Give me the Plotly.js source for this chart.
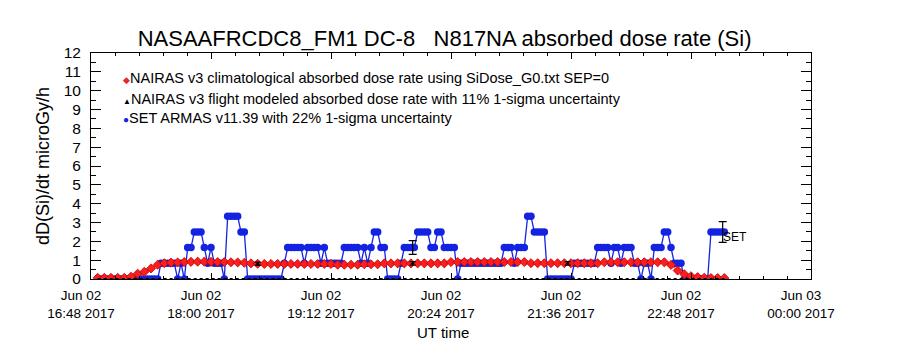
<!DOCTYPE html>
<html><head><meta charset="utf-8">
<script src="https://cdn.plot.ly/plotly-3.0.1.min.js"></script>
<style>html,body{margin:0;padding:0;background:#fff}#chart{width:900px;height:350px}</style>
</head><body><div id="chart"></div>
<script>
// ---- time base: minutes after 2017-06-02 16:48 UT ----
const startUT = Date.UTC(2017, 5, 2, 16, 48);
const endUT = Date.UTC(2017, 5, 3, 0, 0);

// NAIRAS v3 climatological absorbed dose rate (every 4 min from +4 min)
const climStartMin = 4, climStepMin = 4;
const climDose = [
  0.06,0.06,0.06,0.06,0.06,0.12,0.28,0.38,0.56,0.76,
  0.84,0.87,0.88,0.90,0.91,0.92,0.92,0.91,0.90,0.90,
  0.89,0.88,0.86,0.83,0.81,0.80,0.80,0.80,0.80,0.80,
  0.80,0.80,0.80,0.80,0.80,0.80,0.76,0.76,0.76,0.76,
  0.78,0.78,0.78,0.83,0.83,0.83,0.83,0.83,0.83,0.83,
  0.83,0.83,0.83,0.90,0.90,0.90,0.90,0.90,0.90,0.90,
  0.90,0.90,0.90,0.90,0.90,0.84,0.84,0.84,0.84,0.84,
  0.84,0.84,0.84,0.84,0.84,0.84,0.89,0.89,0.89,0.89,
  0.89,0.89,0.89,0.89,0.89,0.89,0.75,0.45,0.25,0.15,
  0.10,0.07,0.05,0.05,0.05
];

// SET ARMAS v11.39 (every 2 min from +4 min)
const armasStartMin = 4, armasStepMin = 2;
const armasDose = [
  0,0,0,0,0,0,0,0,0,0,
  0,0,0,0,0,0,0,0,0,0.83,
  0.83,0.83,0.83,0.83,0,0.83,0,1.67,1.67,2.5,
  2.5,2.5,1.67,0.83,1.67,0.83,0.83,0.83,0,3.33,
  3.33,3.33,3.33,2.5,2.5,0,0,0,0,0,
  0,0,0,0,0,0,0.83,1.67,1.67,1.67,
  1.67,1.67,0.83,1.67,1.67,1.67,1.67,0.83,1.67,0.83,
  0.83,0.83,0.83,0.83,1.67,1.67,1.67,1.67,1.67,0.83,
  1.67,0.83,1.67,2.5,2.5,1.67,1.67,0,0,0,
  0,0.83,1.67,1.67,1.67,1.67,2.5,2.5,2.5,2.5,
  1.67,1.67,2.5,2.5,1.67,1.67,1.67,1.67,0,0.83,
  0.83,0.83,0.83,0.83,0.83,0.83,0.83,0.83,0.83,0.83,
  0.83,0.83,1.67,1.67,1.67,0.83,1.67,1.67,1.67,3.33,
  3.33,2.5,2.5,2.5,2.5,0,0,0,0,0,
  0,0,0,0.83,0.83,0.83,0.83,0.83,0.83,0.83,
  1.67,1.67,1.67,1.67,0.83,1.67,1.67,0.83,1.67,1.67,
  1.67,0.83,0.83,0,0.83,0.83,0,1.67,1.67,1.67,
  2.5,2.5,1.67,0.83,0.83,0.83,0,0,0,0,
  0,0,0,0,2.5,2.5,2.5,2.5,2.5
];

// NAIRAS v3 flight modeled
const flightMin = [100, 193, 286];
const flightDose = [0.81, 0.83, 0.83];
const flightZeroSpanMin = [4, 380];
const flightZeroDose = [0, 0];
const flightUncert = 0.11;

// ARMAS points shown with 1-sigma bars
const armasErrMin = [193, 379];
const armasErrDose = [1.67, 2.5];
const armasUncert = 0.22;

const legendLabels = [
  'NAIRAS v3 climatological absorbed dose rate using SiDose_G0.txt SEP=0',
  'NAIRAS v3 flight modeled absorbed dose rate with 11% 1-sigma uncertainty',
  'SET ARMAS v11.39 with 22% 1-sigma uncertainty'
];
const titleText = 'NASAAFRCDC8_FM1 DC-8 \u00a0 N817NA absorbed dose rate (Si)';
const xTitle = 'UT time';
const yTitle = 'dD(Si)/dt microGy/h';
const setText = 'SET';

// ---- helpers ----
const toT = m => startUT + m * 60000;
const gridTimes = (s, step, n) => Array.from({length: n}, (_, i) => toT(s + i * step));

const climT = gridTimes(climStartMin, climStepMin, climDose.length);
const armasT = gridTimes(armasStartMin, armasStepMin, armasDose.length);

const RED = 'rgb(250,30,30)';
const BLUE = 'rgb(20,35,225)';
const FONT = 'Liberation Sans, Arial, sans-serif';

const traces = [
  { x: armasT, y: armasDose, type: 'scatter', mode: 'lines+markers',
    line: {color: BLUE, width: 1.3}, marker: {symbol: 'circle', size: 7.5, color: BLUE},
    hoverinfo: 'skip', showlegend: false },
  { x: climT, y: climDose, type: 'scatter', mode: 'lines+markers',
    line: {color: RED, width: 1},
    marker: {symbol: 'diamond', size: 7, color: RED, line: {color: 'rgb(190,0,0)', width: 0.8}},
    hoverinfo: 'skip', showlegend: false },
  { x: flightZeroSpanMin.map(toT), y: flightZeroDose, type: 'scatter', mode: 'lines',
    line: {color: 'black', width: 2, dash: 'dot'}, hoverinfo: 'skip', showlegend: false },
  { x: flightMin.map(toT), y: flightDose, type: 'scatter', mode: 'markers',
    marker: {symbol: 'triangle-up', size: 4, color: 'black'},
    error_y: {type: 'array', array: flightDose.map(v => v * flightUncert), color: 'black', thickness: 1.2, width: 3},
    hoverinfo: 'skip', showlegend: false },
  { x: armasErrMin.map(toT), y: armasErrDose, type: 'scatter', mode: 'markers',
    marker: {size: 1, color: 'black', opacity: 0},
    error_y: {type: 'array', array: armasErrDose.map(v => v * armasUncert), color: 'black', thickness: 1.2, width: 4},
    hoverinfo: 'skip', showlegend: false }
];

const legendSyms = [
  '<span style="color:rgb(230,40,40);font-size:9px">\u25C6</span>',
  '<span style="color:black;font-size:8px">\u25B2</span>',
  '<span style="color:' + BLUE + ';font-size:10px">\u25CF</span>'
];
const legendY = [0.89, 0.797, 0.713];
const annotations = legendLabels.map((t, i) => ({
  xref: 'paper', yref: 'paper', x: 0.042, y: legendY[i], xanchor: 'left', yanchor: 'middle',
  text: legendSyms[i] + t, showarrow: false, font: {family: FONT, size: 14.5, color: 'black'}
}));
annotations.push({
  xref: 'x', yref: 'y', x: toT(armasErrMin[1]), y: armasErrDose[1] * (1 - 0.1),
  xanchor: 'left', yanchor: 'middle', xshift: -2, text: setText, showarrow: false,
  font: {family: FONT, size: 12, color: 'black'}
});
annotations.push({
  xref: 'paper', yref: 'paper', x: 0.489, y: -0.2376, xanchor: 'center', yanchor: 'middle',
  text: xTitle, showarrow: false, font: {family: FONT, size: 15, color: 'black'}
});

const layout = {
  width: 900, height: 350,
  margin: {l: 91, r: 89, t: 53, b: 71, pad: 0},
  paper_bgcolor: 'white', plot_bgcolor: 'white',
  showlegend: false,
  title: {text: titleText, font: {family: FONT, size: 22, color: 'black'},
          x: 0.494, xanchor: 'center', y: 1 - 38/350, yanchor: 'middle', yref: 'container', xref: 'container'},
  xaxis: {
    type: 'date', range: [startUT, endUT],
    tick0: startUT, dtick: 72 * 60000, tickformat: '%b %d<br>%H:%M %Y',
    ticks: 'inside', ticklen: 6, tickwidth: 1, tickcolor: 'black',
    minor: {dtick: 14.4 * 60000, tick0: startUT, ticks: 'inside', ticklen: 3, tickcolor: 'black', showgrid: false},
    showline: true, linecolor: 'black', linewidth: 1, mirror: 'ticks',
    showgrid: false, zeroline: false,
    ticklabelshift: -10, ticklabelstandoff: 4,
    tickfont: {family: FONT, size: 13.5, color: 'black'}
  },
  yaxis: {
    range: [0, 12], tick0: 0, dtick: 1,
    ticks: 'inside', ticklen: 10, tickwidth: 1, tickcolor: 'black',
    minor: {dtick: 0.5, ticks: 'inside', ticklen: 5, tickcolor: 'black', showgrid: false},
    showline: true, linecolor: 'black', linewidth: 1, mirror: 'ticks',
    showgrid: false, zeroline: false,
    ticklabelstandoff: 6,
    tickfont: {family: FONT, size: 15.5, color: 'black'},
    title: {text: yTitle, font: {family: FONT, size: 18, color: 'black'}, standoff: 9}
  },
  annotations: annotations
};

Plotly.newPlot('chart', traces, layout, {displayModeBar: false, staticPlot: true});
</script></body></html>
